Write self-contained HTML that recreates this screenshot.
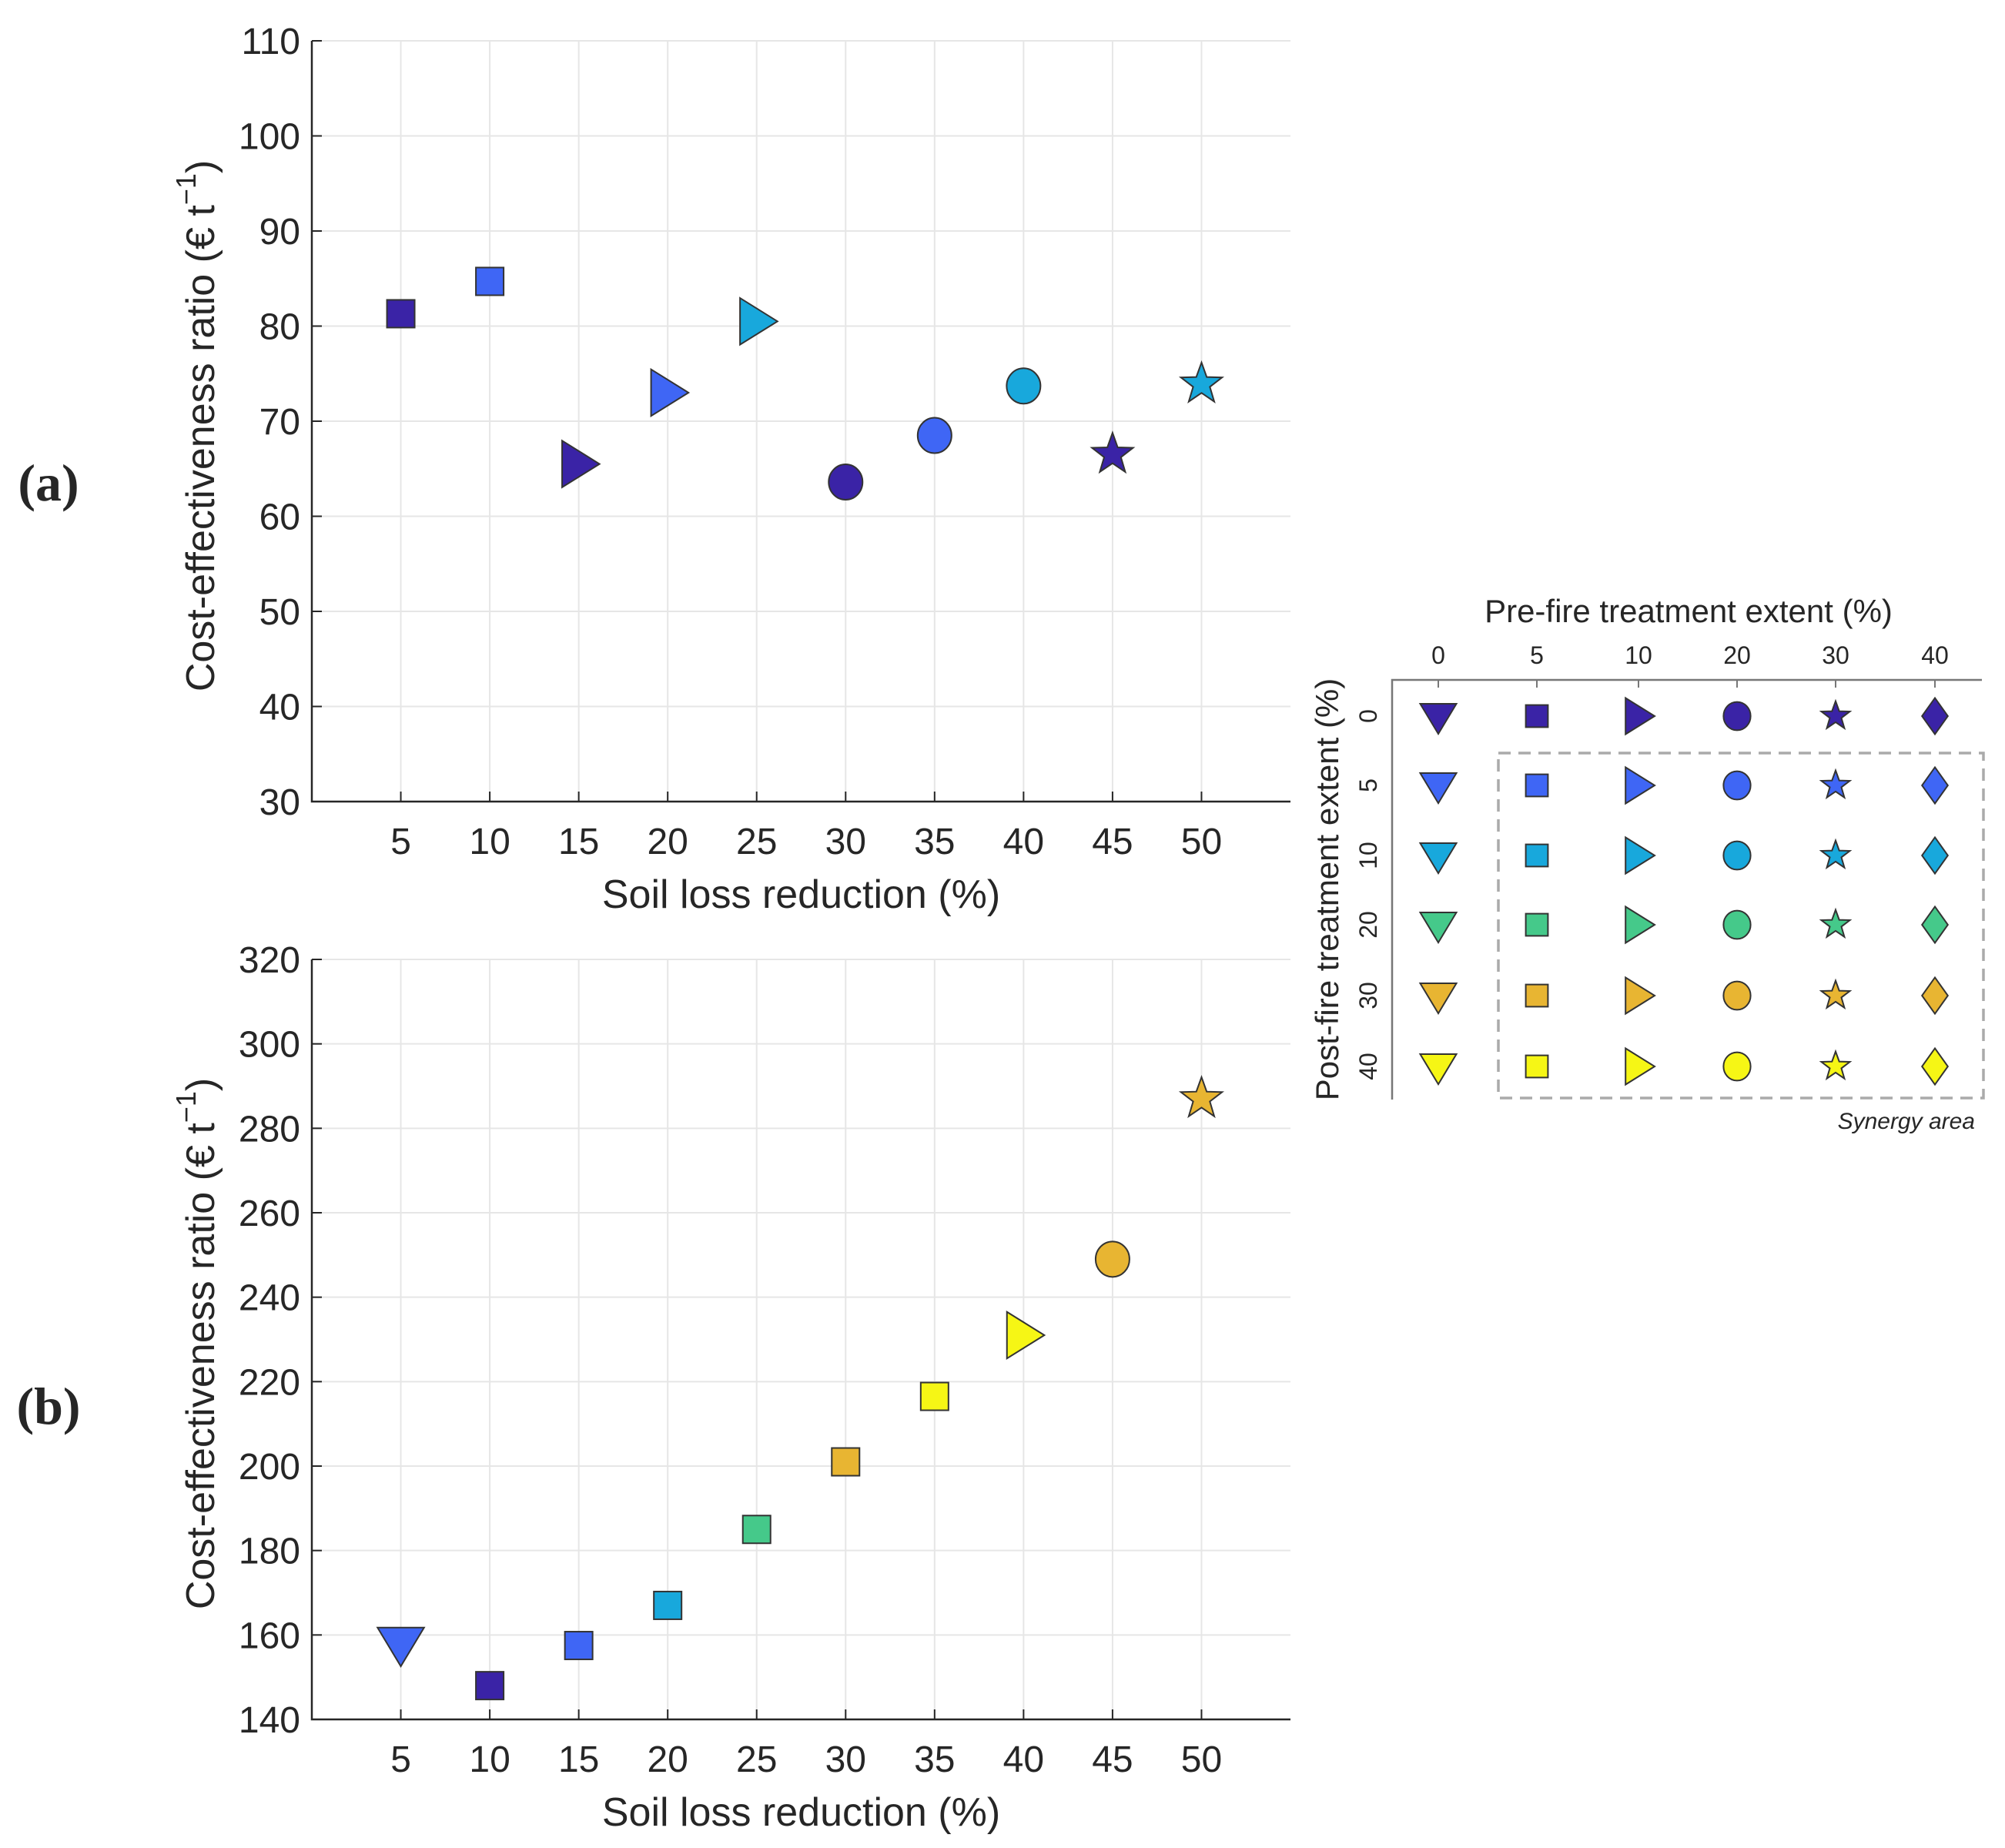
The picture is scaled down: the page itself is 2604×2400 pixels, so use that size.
<!DOCTYPE html>
<html><head><meta charset="utf-8"><style>
html,body{margin:0;padding:0;background:#fff}
svg{display:block}
text{font-family:"Liberation Sans",sans-serif;fill:#262626}
</style></head><body>
<svg id="chart" width="2604" height="2400" viewBox="0 0 2604 2400" xmlns="http://www.w3.org/2000/svg">
<text x="63" y="650" font-weight="bold" font-size="68" text-anchor="middle" style="font-family:'Liberation Serif',serif">(a)</text>
<text x="63" y="1849" font-weight="bold" font-size="68" text-anchor="middle" style="font-family:'Liberation Serif',serif">(b)</text>
</svg>
<script>
const xTicks=[5,10,15,20,25,30,35,40,45,50];
const aX=[5,10,15,20,25,30,35,40,45,50];
const aY=[81.3,84.7,65.5,73.0,80.5,63.6,68.5,73.7,66.5,73.9];
const aShape=['square','square','right','right','right','circle','circle','circle','star','star'];
const aColor=['#3a23a6','#3f66f5','#3a23a6','#3f66f5','#18a8dc','#3a23a6','#3f66f5','#18a8dc','#3a23a6','#18a8dc'];
const aYTicks=[30,40,50,60,70,80,90,100,110];
const bX=[5,10,15,20,25,30,35,40,45,50];
const bY=[158,148,157.5,167,185,201,216.5,231,249,287];
const bShape=['down','square','square','square','square','square','square','right','circle','star'];
const bColor=['#3f66f5','#3a23a6','#3f66f5','#18a8dc','#45c98a','#e8b532','#f6f615','#f6f615','#e8b532','#e8b532'];
const bYTicks=[140,160,180,200,220,240,260,280,300,320];
const legCols=['0','5','10','20','30','40'];
const legRows=['0','5','10','20','30','40'];
const legShapes=['down','square','right','circle','star','diamond'];
const legColors=['#3a23a6','#3f66f5','#18a8dc','#45c98a','#e8b532','#f6f615'];

const svg=document.getElementById('chart');
const NS='http://www.w3.org/2000/svg';
function mk(tag,attrs,parent){const e=document.createElementNS(NS,tag);for(const k in attrs)e.setAttribute(k,attrs[k]);(parent||svg).appendChild(e);return e;}

function marker(shape,cx,cy,s,color,parent){
  let e;const st={fill:color,stroke:'#333','stroke-width':2};
  if(shape==='square'){e=mk('rect',Object.assign({x:cx-s*0.36,y:cy-s*0.36,width:s*0.72,height:s*0.72},st),parent);}
  else if(shape==='circle'){e=mk('ellipse',Object.assign({cx:cx,cy:cy,rx:s*0.44,ry:s*0.46},st),parent);}
  else if(shape==='right'){e=mk('polygon',Object.assign({points:`${cx-s*0.4},${cy-s*0.56} ${cx+s*0.5},${cy} ${cx-s*0.4},${cy+s*0.56}`},st),parent);}
  else if(shape==='down'){e=mk('polygon',Object.assign({points:`${cx-s*0.56},${cy-s*0.38} ${cx+s*0.56},${cy-s*0.38} ${cx},${cy+s*0.55}`},st),parent);}
  else if(shape==='diamond'){e=mk('polygon',Object.assign({points:`${cx},${cy-s*0.56} ${cx+s*0.4},${cy} ${cx},${cy+s*0.56} ${cx-s*0.4},${cy}`},st),parent);}
  else {let p=[];for(let i=0;i<10;i++){const r=i%2?s*0.22:s*0.54;const a=-Math.PI/2+i*Math.PI/5;p.push((cx+r*Math.cos(a)).toFixed(1)+','+(cy+r*Math.sin(a)).toFixed(1));}
    e=mk('polygon',Object.assign({points:p.join(' ')},st),parent);}
  return e;
}

function panel(id,top,bottom,yTicks,xs,ys,shapes,colors,ylabCy){
  const L=405,R=1676,xmin=0,xmax=55,ymin=yTicks[0],ymax=yTicks[yTicks.length-1];
  const X=v=>L+(v-xmin)/(xmax-xmin)*(R-L);
  const Y=v=>bottom-(v-ymin)/(ymax-ymin)*(bottom-top);
  const g=mk('g',{});
  
  
  xTicks.forEach(t=>{
    const l=mk('line',{x1:X(t),x2:X(t),y1:top,y2:bottom,stroke:'#e6e6e6','stroke-width':2},g);
    
    
    mk('line',{x1:X(t),x2:X(t),y1:bottom,y2:bottom-13,stroke:'#262626','stroke-width':2},g);
    const tx=mk('text',{x:X(t),y:bottom+68,'font-size':48,'text-anchor':'middle'},g);tx.textContent=t;
    
    
  });
  yTicks.forEach(t=>{
    const l=mk('line',{x1:L,x2:R,y1:Y(t),y2:Y(t),stroke:'#e6e6e6','stroke-width':2},g);
    
    
    mk('line',{x1:L,x2:L+13,y1:Y(t),y2:Y(t),stroke:'#262626','stroke-width':2},g);
    const tx=mk('text',{x:L-15,y:Y(t)+17,'font-size':48,'text-anchor':'end'},g);tx.textContent=t;
    
    
  });
  const ax=mk('path',{d:`M${L},${top} L${L},${bottom} L${R},${bottom}`,fill:'none',stroke:'#262626','stroke-width':2.5},g);
  
  
  const xl=mk('text',{x:(L+R)/2,y:bottom+138,'font-size':52,'text-anchor':'middle'},g);xl.textContent='Soil loss reduction (%)';
  
  
  const yl=mk('text',{x:0,y:0,'font-size':52,'text-anchor':'middle',transform:`translate(278,${ylabCy}) rotate(-90)`},g);
  yl.innerHTML='Cost-effectiveness ratio (€ t<tspan dy="-24" font-size="36">−1</tspan><tspan dy="24">)</tspan>';
  
  
  xs.forEach((v,i)=>{
    const s=shapes[i]==='square'?50:shapes[i]==='circle'?50:shapes[i]==='star'?52:54;
    const m=marker(shapes[i],X(v),Y(ys[i]),s,colors[i],g);
    
    
  });
}
panel('a',53,1041,aYTicks,aX,aY,aShape,aColor,553);
panel('b',1246,2233,bYTicks,bX,bY,bShape,bColor,1745);

const lg=mk('g',{});


const colX=[1868,1996,2128,2256,2384,2513];
const rowY=[930,1020,1111,1201,1293,1385];
const lt=mk('text',{x:2193,y:808,'font-size':42,'text-anchor':'middle'},lg);lt.textContent='Pre-fire treatment extent (%)';


const ly=mk('text',{x:0,y:0,'font-size':42,'text-anchor':'middle',transform:'translate(1738,1155) rotate(-90)'},lg);ly.textContent='Post-fire treatment extent (%)';


mk('path',{d:'M1808,1428 L1808,883 L2574,883',fill:'none',stroke:'#777','stroke-width':2.5},lg);
const db=mk('rect',{x:1946,y:978,width:630,height:448,fill:'none',stroke:'#aaa','stroke-width':3.5,'stroke-dasharray':'16,10'},lg);


const sy=mk('text',{x:2565,y:1466,'font-size':30,'text-anchor':'end','font-style':'italic'},lg);sy.textContent='Synergy area';


legCols.forEach((c,j)=>{
  const t=mk('text',{x:colX[j],y:862,'font-size':32,'text-anchor':'middle'},lg);t.textContent=c;
  
  
  mk('line',{x1:colX[j],x2:colX[j],y1:883,y2:893,stroke:'#777','stroke-width':2},lg);
});
legRows.forEach((r,i)=>{
  const t=mk('text',{x:0,y:0,'font-size':32,'text-anchor':'middle',transform:`translate(1788,${rowY[i]}) rotate(-90)`},lg);t.textContent=r;
  
  
  legShapes.forEach((s,j)=>{
    const sz=s==='square'?40:s==='circle'?40:s==='star'?36:42;
    const m=marker(s,colX[j],rowY[i],sz,legColors[i],lg);
    
    
  });
});
</script>
</body></html>
